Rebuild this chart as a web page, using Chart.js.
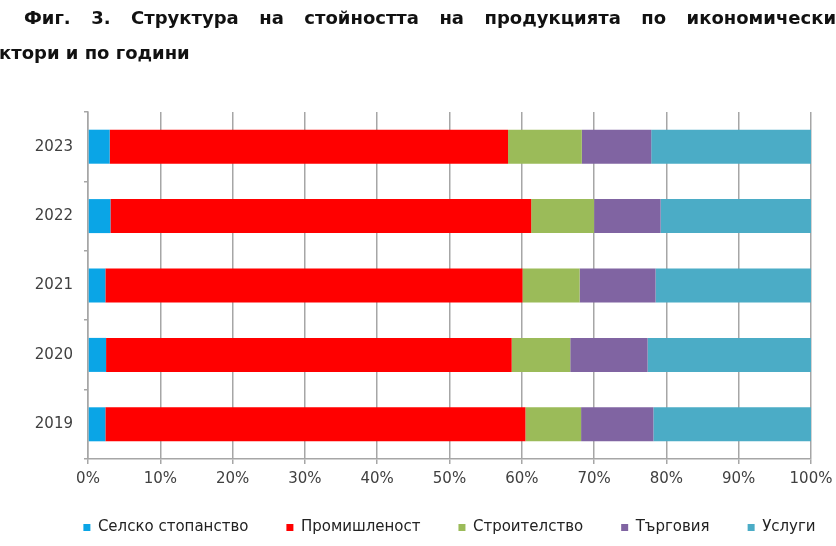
<!DOCTYPE html>
<html>
<head>
<meta charset="utf-8">
<script src="https://cdn.jsdelivr.net/npm/chart.js@4"></script>
<style>
  body { margin: 0; background: #fff; }
  #wrap { position: relative; width: 836px; height: 546px; overflow: hidden; }
  canvas { position: absolute; left: 0; top: 0; }
  .t { position: absolute; font: bold 18px "DejaVu Sans"; color: #111; white-space: nowrap; }
  #t1 { left: 24px; top: 7px; width: 812px; text-align: justify; text-align-last: justify; white-space: normal; }
  #t2 { left: -1px; top: 42px; }
</style>
</head>
<body>
<div id="wrap">
  <canvas id="chart" width="836" height="546"></canvas>
  <div class="t" id="t1">Фиг. 3. Структура на стойността на продукцията по икономически</div>
  <div class="t" id="t2">ктори и по години</div>
</div>
<script>
const years = ["2019", "2020", "2021", "2022", "2023"];
const agriculture = [2.4, 2.5, 2.4, 3.1, 3.0];
const industry = [58.1, 56.1, 57.7, 58.2, 55.1];
const construction = [7.7, 8.1, 7.9, 8.7, 10.2];
const trade = [10.0, 10.7, 10.5, 9.2, 9.6];
const services = [21.8, 22.6, 21.5, 20.8, 22.1];
const xTicks = [0, 10, 20, 30, 40, 50, 60, 70, 80, 90, 100];

Chart.defaults.font.family = "DejaVu Sans";
Chart.defaults.font.size = 15;
Chart.defaults.color = "#404040";

// put the legend row centred under the plot, text line at y~526
const legendShift = {
  id: "legendShift",
  beforeDraw(chart) {
    const lg = chart.legend;
    if (!lg || lg._shifted) return;
    const dx = (chart.chartArea.left + chart.chartArea.right) / 2 - (lg.left + lg.right) / 2;
    lg.left += dx;
    lg.right += dx;
    const h = lg.bottom - lg.top;
    lg.top = 529 - lg.options.labels.padding - 9;
    lg.bottom = lg.top + h;
    lg._shifted = true;
  },
};

const ctx = document.getElementById("chart").getContext("2d");
new Chart(ctx, {
  type: "bar",
  data: {
    labels: years,
    datasets: [
      { label: "Селско стопанство", data: agriculture, backgroundColor: "#0AA5E6" },
      { label: "Промишленост", data: industry, backgroundColor: "#FF0000" },
      { label: "Строителство", data: construction, backgroundColor: "#9BBB59" },
      { label: "Търговия", data: trade, backgroundColor: "#8064A2" },
      { label: "Услуги", data: services, backgroundColor: "#4BACC6" },
    ],
  },
  options: {
    indexAxis: "y",
    responsive: false,
    animation: false,
    categoryPercentage: 1,
    barPercentage: 0.49,
    layout: { padding: { top: 112, right: 0, left: 0, bottom: -11 } },
    scales: {
      x: {
        stacked: true,
        min: 0,
        max: 100,
        afterBuildTicks: (scale) => { scale.ticks = xTicks.map((v) => ({ value: v })); },
        afterFit: (scale) => { scale.paddingRight = 25; scale.paddingLeft = 0; },
        ticks: { callback: (v) => v + "%", padding: 6, maxRotation: 0 },
        grid: { color: "#A6A6A6", lineWidth: 1.5, tickLength: 5 },
        border: { color: "#A6A6A6", width: 1.5 },
      },
      y: {
        stacked: true,
        reverse: true,
        afterFit: (scale) => { scale.width = 88; },
        ticks: { padding: 11 },
        grid: { drawOnChartArea: false, color: "#A6A6A6", tickLength: 4, lineWidth: 1.5 },
        border: { color: "#A6A6A6", width: 1.5 },
      },
    },
    plugins: {
      tooltip: { enabled: false },
      legend: {
        position: "bottom",
        labels: { boxWidth: 7, boxHeight: 7, padding: 38, color: "#222", font: { size: 15 } },
      },
    },
  },
  plugins: [legendShift],
});
</script>
</body>
</html>
